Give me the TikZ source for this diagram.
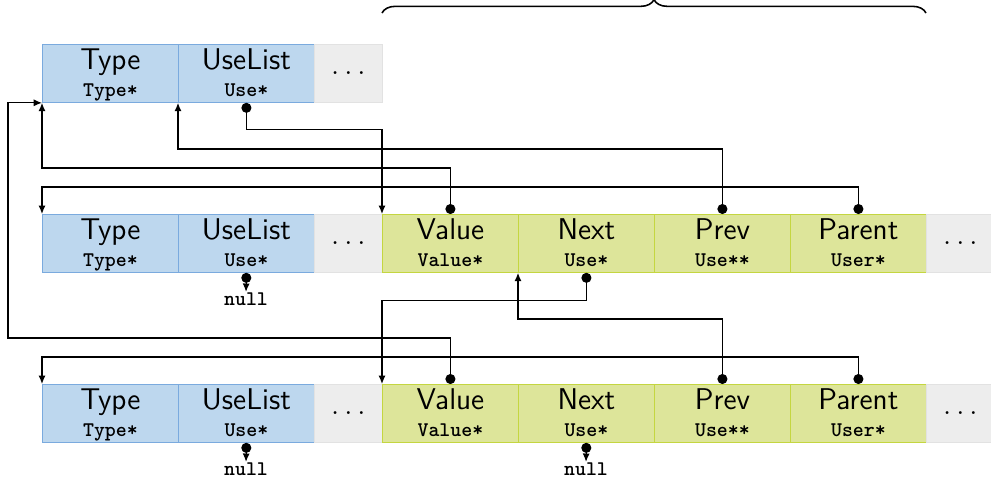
\documentclass[tikz,border=0pt]{standalone}
\usepackage{fontspec}
\usetikzlibrary{arrows.meta,decorations.pathreplacing,calc}

\definecolor{cellblue}{RGB}{189,215,238}
\definecolor{cellblueline}{RGB}{122,170,222}
\definecolor{cellgreen}{RGB}{221,229,154}
\definecolor{cellgreenline}{RGB}{196,214,64}
\definecolor{cellgray}{RGB}{237,237,237}
\definecolor{cellgrayline}{RGB}{226,226,226}

% one field of a record: name, x, y, style, field label, field type
\newcommand\recfield[6]{%
  \node[#4] (#1) at (#2,#3) {};
  \node[fname] (#1-name) at ($(#1.north)+(0,25)$) {#5};
  \node[ftype] (#1-type) at ($(#1.north)+(0,52)$) {#6};
}

\begin{document}
\begin{tikzpicture}[x=0.48pt,y=-0.48pt,
  cell/.style={rectangle,inner sep=0pt,anchor=north west,draw,
    minimum width=65.28pt,minimum height=27.84pt},
  valfield/.style={cell,fill=cellblue,draw=cellblueline},
  usefield/.style={cell,fill=cellgreen,draw=cellgreenline},
  morecell/.style={cell,minimum width=32.64pt,fill=cellgray,draw=cellgrayline,font=\Large},
  fname/.style={anchor=base,inner sep=0pt,font=\Large\sffamily},
  ftype/.style={anchor=base,inner sep=0pt,font=\ttfamily\bfseries},
  nullref/.style={anchor=base,inner sep=0pt,font=\ttfamily\bfseries},
  link/.style={draw,line width=0.6pt,
    {Circle[length=4.8pt]}-{Latex[length=4pt,width=3.4pt]}},
  ]
\useasboundingbox (0,0) rectangle (991,480);

% brace over the Use fields
\draw[decorate,decoration={brace,amplitude=6.4pt},line width=0.75pt]
  (382,13) -- (926,13);

% row 1: a value
\recfield{r1type}{42}{44}{valfield}{Type}{Type*}
\recfield{r1use}{178}{44}{valfield}{UseList}{Use*}
\node[morecell] (r1more) at (314,44) {$\dots$};

% rows 2 and 3: users, each with one Use
\foreach \r/\y in {r2/214,r3/384}{
  \recfield{\r type}{42}{\y}{valfield}{Type}{Type*}
  \recfield{\r use}{178}{\y}{valfield}{UseList}{Use*}
  \node[morecell] (\r more) at (314,\y) {$\dots$};
  \recfield{\r val}{382}{\y}{usefield}{Value}{Value*}
  \recfield{\r next}{518}{\y}{usefield}{Next}{Use*}
  \recfield{\r prev}{654}{\y}{usefield}{Prev}{Use**}
  \recfield{\r par}{790}{\y}{usefield}{Parent}{User*}
  \node[morecell] (\r tail) at (926,\y) {$\dots$};
}

% null ends
\node[nullref] (r2null) at (246,305) {null};
\node[nullref] (r3null) at (246,475) {null};
\node[nullref] (r3nextnull) at (586,475) {null};

% pointers
\draw[link] (r1use.south) -- ++(0,27) -| (r2val.north west);
\draw[link] (r2val.north) -- ++(0,-46) -| (r1type.south west);
\draw[link] (r2prev.north) -- ++(0,-65) -| (r1use.south west);
\draw[link] (r2par.north) -- ++(0,-27) -| (r2type.north west);
\draw[link] (r2use.south) -- (r2null.north);
\draw[link] (r2next.south) -- ++(0,28) -| (r3val.north west);
\draw[link] (r3val.north) -- ++(0,-46) -| ($(r1type.south west)+(-34,0)$)
  -- (r1type.south west);
\draw[link] (r3prev.north) -- ++(0,-65) -| (r2next.south west);
\draw[link] (r3par.north) -- ++(0,-27) -| (r3type.north west);
\draw[link] (r3use.south) -- (r3null.north);
\draw[link] (r3next.south) -- (r3nextnull.north);
\end{tikzpicture}
\end{document}
